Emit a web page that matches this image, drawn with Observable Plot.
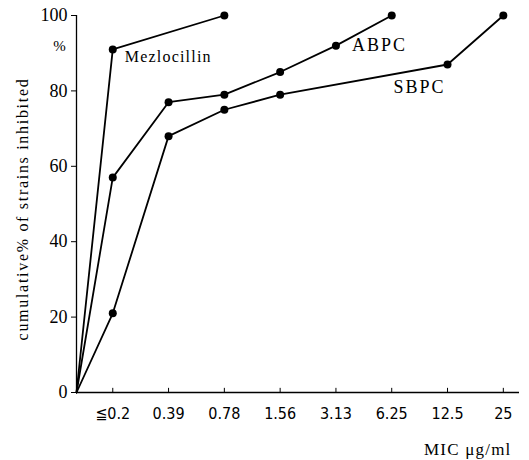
<!DOCTYPE html>
<html><head><meta charset="utf-8">
<script src="https://cdn.jsdelivr.net/npm/d3@7"></script>
<script src="https://cdn.jsdelivr.net/npm/@observablehq/plot@0.6"></script>
<style>body{margin:0;background:#fff}
.ls1 text{letter-spacing:1.2px}
.ls15 text{letter-spacing:2px}
.ls2 text{letter-spacing:1.7px}
</style>
</head><body><div id="chart"></div>
<script>
const micLabels = ["≦0.2","0.39","0.78","1.56","3.13","6.25","12.5","25"];
const originPos = -0.65; // MIC 0 position (index units)
const mezlocillin = [0, 91, null, 100, null, null, null, null, null];
const abpc = [0, 57, 77, 79, 85, 92, 100, null, null];
const sbpc = [0, 21, 68, 75, 79, null, null, 87, 100];
const seriesNames = ["Mezlocillin","ABPC","SBPC"];
const yTicks = [0,20,40,60,80,100];

const positions = [originPos, ...micLabels.map((_, i) => i)];
const rows = [];
[mezlocillin, abpc, sbpc].forEach((vals, s) => {
  vals.forEach((v, i) => { if (v != null) rows.push({series: seriesNames[s], x: positions[i], y: v, origin: i === 0}); });
});
const labelAnchors = [
  {name: "Mezlocillin", x: 0, y: 91, dx: 12, dy: 7, anchor: "start", size: 16, cls: "ls1"},
  {name: "ABPC", x: 4, y: 92, dx: 16, dy: 0, anchor: "start", size: 18, cls: "ls15"},
  {name: "SBPC", x: 6, y: 87, dx: -2, dy: 23, anchor: "end", size: 18, cls: "ls15"}
];

const plot = Plot.plot({
  width: 529, height: 460,
  marginLeft: 76, marginRight: 10, marginTop: 15, marginBottom: 68,
  style: {fontFamily: "'Liberation Serif', serif", background: "#fff", color: "#000"},
  x: {type: "linear", domain: [originPos, 7.29], axis: null},
  y: {domain: [0, 100], axis: null},
  marks: [
    Plot.ruleY([0], {stroke: "#000", strokeWidth: 1.3}),
    Plot.ruleX([originPos], {stroke: "#000", strokeWidth: 1.3}),
    Plot.axisY({ticks: yTicks, tickSize: 5, tickPadding: 4, fontSize: 18, label: null, stroke: "#000"}),
    Plot.axisX({ticks: d3.range(micLabels.length), tickFormat: i => micLabels[i], tickSize: 0, tickPadding: 15,
      fontSize: 16, label: null, fontFamily: "'DejaVu Sans Condensed', 'Liberation Sans Narrow', sans-serif"}),
    Plot.ruleX(d3.range(micLabels.length), {x: d => d, y1: 0, y2: 1.1, stroke: "#000", strokeWidth: 1}),
    Plot.line(rows, {x: "x", y: "y", z: "series", stroke: "#000", strokeWidth: 1.8}),
    Plot.dot(rows.filter(d => !d.origin), {x: "x", y: "y", r: 4, fill: "#000", stroke: "none"}),
    ...labelAnchors.map(l => Plot.text([l], {x: "x", y: "y", text: "name", dx: l.dx, dy: l.dy, textAnchor: l.anchor,
      fontSize: l.size, fill: "#000", className: l.cls})),
    Plot.text(["%"], {frameAnchor: "top-left", dx: -17, dy: 25, fontSize: 15, fill: "#000", textAnchor: "middle"}),
    Plot.text(["MIC μg/ml"], {frameAnchor: "bottom-right", dy: 62, dx: -8, fontSize: 17, textAnchor: "end", fill: "#000", className: "ls1"}),
    Plot.text(["cumulative% of strains inhibited"], {frameAnchor: "left", dx: -54, dy: 5, rotate: -90, fontSize: 16, textAnchor: "middle", fill: "#000", className: "ls2"})
  ]
});
document.getElementById("chart").appendChild(plot);
</script></body></html>
